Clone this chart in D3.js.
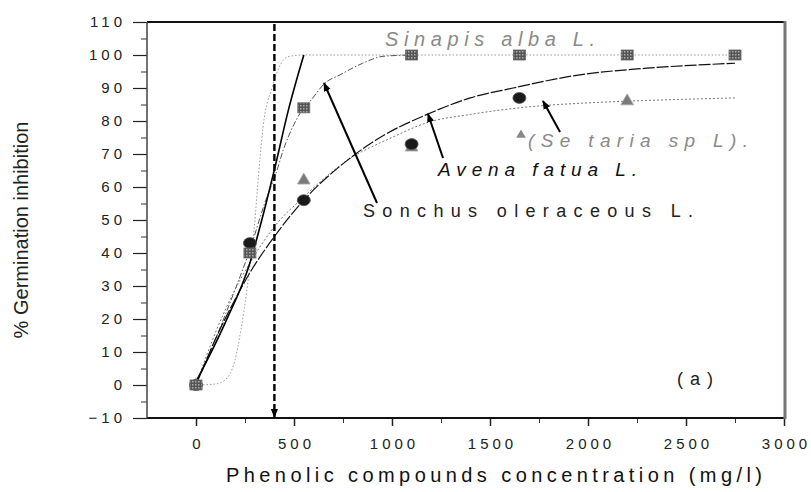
<!DOCTYPE html>
<html><head><meta charset="utf-8">
<script src="https://cdn.jsdelivr.net/npm/d3@7"></script>
<style>body{margin:0;background:#fff}svg{display:block}text{font-family:"Liberation Sans",Arial,sans-serif}</style>
</head><body><svg id="c" width="811" height="492"></svg>
<script>
// ---- data ----
const conc = [0, 275, 550, 1100, 1650, 2200, 2750];
const sinapisPts = [0, 40, 84, 100, 100, 100, 100];          // squares
const avenaConc = [0, 275, 550, 1100, 1650];
const avenaPts = [0, 43, 56, 73, 87];                        // circles
const setariaConc = [0, 550, 1100, 2200];
const setariaPts = [0, 62, 72, 86];                          // triangles

// fitted curves
const avenaCurveX = [0, 100, 200, 275, 400, 550, 770, 939, 1179, 1400, 1618, 1959, 2300, 2750];
const avenaCurveY = [0, 14, 26, 34, 45, 56, 68, 75, 82, 87, 90, 94, 96, 97.5];
const setariaCurveX = [0, 100, 200, 275, 400, 550, 770, 1000, 1179, 1400, 1650, 2000, 2200, 2750];
const setariaCurveY = [0, 16, 29, 37, 48, 57, 68, 75, 79.5, 82, 84, 85.5, 86, 87];
const sinapisCurveX = [0, 100, 200, 275, 350, 413, 444, 500, 550, 582, 658, 735, 850, 954, 1100];
const sinapisCurveY = [0, 14, 29, 41, 55, 65, 71, 79, 84, 86, 91.5, 94, 97.5, 99.6, 100];
const sigmoidX = [0, 100, 148, 199, 230, 260, 296, 327, 342, 388, 430, 470, 550, 1100, 1650, 2200, 2750];
const sigmoidY = [0, 0.3, 1.5, 7.6, 17, 29, 47, 69, 78, 90, 97, 99.5, 100, 100, 100, 100, 100];
const sonchusX = [0, 150, 275, 340, 403, 470, 550];
const sonchusY = [1, 19, 37, 51, 66, 83, 100];

const xTicks = [0, 500, 1000, 1500, 2000, 2500, 3000];
const yTicks = [-10, 0, 10, 20, 30, 40, 50, 60, 70, 80, 90, 100, 110];
const thresholdConc = 400;

// ---- layout ----
const svg = d3.select("#c");
const L = 147, R = 784, T = 22, B = 418;
const x = d3.scaleLinear().domain([-250, 3000]).range([L, R]);
const y = d3.scaleLinear().domain([-10, 110]).range([B, T]);

const defs = svg.append("defs");
defs.append("marker").attr("id", "ah").attr("viewBox", "0 0 10 10").attr("refX", 9).attr("refY", 5)
  .attr("markerWidth", 9).attr("markerHeight", 9).attr("markerUnits", "userSpaceOnUse").attr("orient", "auto")
  .append("path").attr("d", "M0,1 L10,5 L0,9 Z").attr("fill", "#000");
const pat = defs.append("pattern").attr("id", "sq").attr("width", 3).attr("height", 3).attr("patternUnits", "userSpaceOnUse");
pat.append("rect").attr("width", 3).attr("height", 3).attr("fill", "#555");
pat.append("rect").attr("width", 1.5).attr("height", 1.5).attr("fill", "#aaa");

// axes
const yAxis = d3.axisLeft(y).tickValues(yTicks).tickSize(14).tickFormat(d3.format("d"));
const gy = svg.append("g").attr("transform", `translate(${L},0)`).call(yAxis);
gy.select(".domain").remove();
gy.selectAll(".tick line").attr("stroke", "#222").attr("stroke-width", 1.2);
gy.selectAll(".tick text").attr("font-size", 15).attr("fill", "#222").attr("letter-spacing", 4).attr("dx", -1)
  .attr("x", -20);
const yMinor = d3.axisLeft(y).tickValues(d3.range(-5, 110, 10)).tickSize(6).tickFormat("");
const gym = svg.append("g").attr("transform", `translate(${L},0)`).call(yMinor);
gym.select(".domain").remove();
gym.selectAll(".tick line").attr("stroke", "#333");

const xAxis = d3.axisBottom(x).tickValues(xTicks).tickSize(8).tickFormat(d3.format("d"));
const gx = svg.append("g").attr("transform", `translate(0,${B})`).call(xAxis);
gx.select(".domain").remove();
gx.selectAll(".tick line").attr("stroke", "#222").attr("stroke-width", 1.5);
gx.selectAll(".tick text").attr("font-size", 15).attr("fill", "#222").attr("letter-spacing", 4).attr("y", 20)
  .attr("dx", 2);
const xMinor = d3.axisBottom(x).tickValues(d3.range(250, 3000, 500)).tickSize(5).tickFormat("");
const gxm = svg.append("g").attr("transform", `translate(0,${B})`).call(xMinor);
gxm.select(".domain").remove();
gxm.selectAll(".tick line").attr("stroke", "#333");

// frame
svg.append("line").attr("x1", L).attr("x2", R).attr("y1", T).attr("y2", T).attr("stroke", "#111").attr("stroke-width", 2);
svg.append("line").attr("x1", L).attr("x2", R).attr("y1", B).attr("y2", B).attr("stroke", "#111").attr("stroke-width", 2);
svg.append("line").attr("x1", L).attr("x2", L).attr("y1", T).attr("y2", B).attr("stroke", "#444").attr("stroke-width", 1.5);
svg.append("line").attr("x1", R + 1).attr("x2", R + 1).attr("y1", T - 1).attr("y2", B + 1).attr("stroke", "#777").attr("stroke-width", 3);

// curves
const line = d3.line().curve(d3.curveMonotoneX);
function drawCurve(xs, ys, attrs) {
  const p = svg.append("path").attr("d", line(xs.map((v, i) => [x(v), y(ys[i])]))).attr("fill", "none");
  Object.entries(attrs).forEach(([k, v]) => p.attr(k, v));
}
drawCurve(sigmoidX, sigmoidY, { stroke: "#9a9a9a", "stroke-width": 1, "stroke-dasharray": "1.5,2" });
drawCurve(sinapisCurveX, sinapisCurveY, { stroke: "#555", "stroke-width": 1, "stroke-dasharray": "6,2,1.5,2" });
drawCurve(setariaCurveX, setariaCurveY, { stroke: "#777", "stroke-width": 1, "stroke-dasharray": "2,2" });
drawCurve(avenaCurveX, avenaCurveY, { stroke: "#111", "stroke-width": 1.2, "stroke-dasharray": "12,2" });
drawCurve(sonchusX, sonchusY, { stroke: "#000", "stroke-width": 1.6 });

// threshold dashed line with arrow
svg.append("line").attr("x1", x(thresholdConc)).attr("x2", x(thresholdConc)).attr("y1", T + 2).attr("y2", B - 1)
  .attr("stroke", "#000").attr("stroke-width", 2.4).attr("stroke-dasharray", "7,3").attr("marker-end", "url(#ah)");

// markers
svg.append("g").selectAll("path").data(setariaConc).join("path")
  .attr("transform", (d, i) => `translate(${x(d)},${y(setariaPts[i])})`)
  .attr("d", d3.symbol(d3.symbolTriangle, 70)).attr("fill", "#7a7a7a").attr("stroke", "#aaa").attr("stroke-width", 0.8);
svg.append("g").selectAll("ellipse").data(avenaConc).join("ellipse")
  .attr("cx", d => x(d)).attr("cy", (d, i) => y(avenaPts[i])).attr("rx", 6.5).attr("ry", 5.5)
  .attr("fill", "#1a1a1a").attr("stroke", "#555").attr("stroke-width", 0.8);
svg.append("g").selectAll("rect").data(conc).join("rect")
  .attr("x", d => x(d) - 6).attr("y", (d, i) => y(sinapisPts[i]) - 5).attr("width", 12).attr("height", 10)
  .attr("fill", "url(#sq)").attr("stroke", "#666").attr("stroke-width", 0.8);

// annotation arrows
function arrow(x1, y1, x2, y2) {
  svg.append("line").attr("x1", x1).attr("y1", y1).attr("x2", x2).attr("y2", y2)
    .attr("stroke", "#000").attr("stroke-width", 2).attr("marker-end", "url(#ah)");
}
arrow(377, 203, 324, 83);
arrow(443, 158, 428, 114);
arrow(560, 132, 543, 101);

// annotation texts
function label(txt, x0, yb, w, opts) {
  const t = svg.append("text").attr("x", x0).attr("y", yb).attr("textLength", w).attr("lengthAdjust", "spacing")
    .attr("font-size", opts.size || 19).attr("fill", opts.fill || "#000").text(txt);
  if (opts.italic) t.attr("font-style", "italic");
  return t;
}
label("Sinapis alba L.", 385, 46, 210, { italic: true, fill: "#8a8a8a", size: 20 });
svg.append("path").attr("transform", "translate(521,135)").attr("d", d3.symbol(d3.symbolTriangle, 40)).attr("fill", "#888");
label("(Se taria sp L).", 528, 147, 220, { italic: true, fill: "#8a8a8a", size: 19 });
label("Avena fatua L.", 438, 176, 199, { italic: true, fill: "#111", size: 19 });
label("Sonchus oleraceous L.", 363, 217, 330, { fill: "#222", size: 18 });
label("(a)", 677, 385, 36, { fill: "#222", size: 18 });

// axis titles
svg.append("text").attr("transform", "translate(28,230) rotate(-90)").attr("text-anchor", "middle")
  .attr("font-size", 20).attr("fill", "#222").text("% Germination inhibition");
svg.append("text").attr("x", 226).attr("y", 482).attr("textLength", 536).attr("lengthAdjust", "spacing")
  .attr("font-size", 20).attr("fill", "#111").text("Phenolic compounds concentration (mg/l)");
</script></body></html>
